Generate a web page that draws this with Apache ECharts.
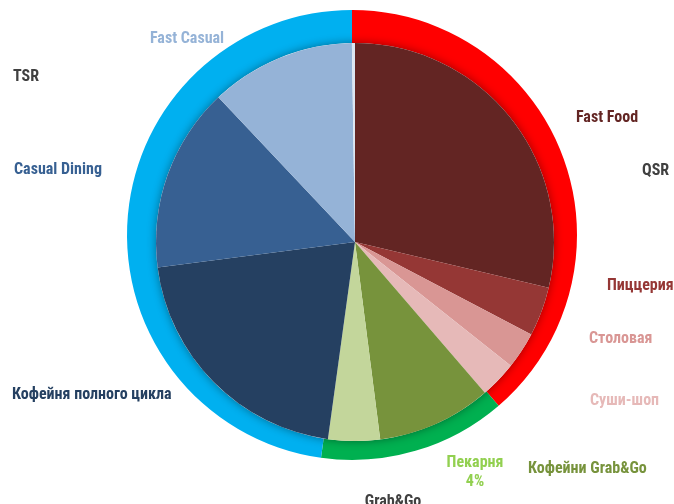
<!DOCTYPE html>
<html>
<head>
<meta charset="utf-8">
<script src="https://cdn.jsdelivr.net/npm/echarts@6/dist/echarts.min.js"></script>
<style>
  html, body { margin: 0; padding: 0; background: #fff; }
  #chart { width: 674px; height: 504px; }
</style>
</head>
<body>
<div id="chart"></div>
<script>
// segments (outer ring)
const outerNames = ['QSR', 'Grab&Go', 'TSR'];
const outerValues = [38.7, 13.5, 47.8];

// formats (inner pie), clockwise from 12 o'clock
const innerNames = ['Fast Food', 'Пиццерия', 'Столовая', 'Суши-шоп', 'Кофейни Grab&Go',
    'Пекарня', 'Кофейня полного цикла', 'Casual Dining', 'Fast Casual', 'Прочее'];
const innerValues = [28.7, 4.0, 3.0, 3.0, 9.3, 4.2, 20.8, 15.0, 11.8, 0.25];

const outerColors = ['#FF0000', '#00B050', '#00B0F0'];
const innerColors = ['#632523', '#953735', '#D99694', '#E6B9B8', '#77933C',
    '#C3D69B', '#254061', '#376092', '#95B3D7', '#DCE6F2'];

// label placement (x, y, align) and text colours
const labelSpots = {
    'QSR': [642, 171, 'left', '#404040'],
    'Grab&Go': [393, 502, 'center', '#404040'],
    'TSR': [13, 77, 'left', '#404040'],
    'Fast Food': [576, 118, 'left', '#632523'],
    'Пиццерия': [607, 286, 'left', '#953735'],
    'Столовая': [589, 339, 'left', '#D99694'],
    'Суши-шоп': [590, 401, 'left', '#E6B9B8'],
    'Кофейни Grab&Go': [528, 469, 'left', '#77933C'],
    'Пекарня': [475, 472, 'center', '#92D050'],
    'Кофейня полного цикла': [12, 395, 'left', '#254061'],
    'Casual Dining': [14, 170, 'left', '#376092'],
    'Fast Casual': [150, 39, 'left', '#95B3D7']
};

const FONT = "'Roboto Condensed', 'Liberation Sans Narrow', Roboto, sans-serif";
const innerTotal = innerValues.reduce((a, b) => a + b, 0);

function layoutFor(names) {
    return (p) => {
        const s = labelSpots[names[p.dataIndex]];
        if (!s) return {};
        return { x: s[0], y: s[1], align: s[2], verticalAlign: 'middle' };
    };
}

const chart = echarts.init(document.getElementById('chart'));

chart.setOption({
    animation: false,
    series: [
        {
            type: 'pie',
            center: [352, 235],
            radius: [175, 225],
            silent: true,
            z: 1,
            label: {
                show: true,
                position: 'outside',
                overflow: 'none',
                fontFamily: FONT,
                fontWeight: 'bold',
                fontSize: 16
            },
            labelLine: { show: false },
            labelLayout: layoutFor(outerNames),
            data: outerNames.map((n, i) => ({
                name: n,
                value: outerValues[i],
                itemStyle: { color: outerColors[i] },
                label: { color: labelSpots[n][3] }
            }))
        },
        {
            // shadow disc under the inner pie
            type: 'pie',
            center: [355, 242],
            radius: [0, 199],
            silent: true,
            z: 2,
            label: { show: false },
            labelLine: { show: false },
            data: [{
                value: 1,
                itemStyle: { color: '#ffffff', shadowBlur: 10, shadowColor: 'rgba(0,0,0,0.4)' }
            }]
        },
        {
            type: 'pie',
            center: [355, 242],
            radius: [0, 199],
            silent: true,
            z: 3,
            itemStyle: { borderWidth: 0 },
            label: {
                show: true,
                position: 'outside',
                overflow: 'none',
                fontFamily: FONT,
                fontWeight: 'bold',
                fontSize: 16,
                lineHeight: 19,
                formatter: (p) => p.name === 'Пекарня'
                    ? p.name + '\n' + Math.round(p.value / innerTotal * 100) + '%'
                    : p.name
            },
            labelLine: { show: false },
            labelLayout: layoutFor(innerNames),
            data: innerNames.map((n, i) => ({
                name: n,
                value: innerValues[i],
                itemStyle: { color: innerColors[i] },
                label: labelSpots[n] ? { color: labelSpots[n][3] } : { show: false }
            }))
        }
    ]
});
</script>
</body>
</html>
